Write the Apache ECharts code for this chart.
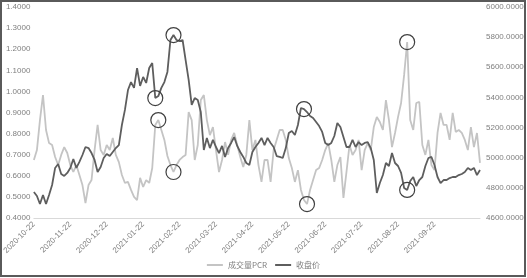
<!DOCTYPE html>
<html>
<head>
<meta charset="utf-8">
<script src="https://cdn.jsdelivr.net/npm/echarts@6/dist/echarts.min.js"></script>
<style>
  html, body { margin: 0; padding: 0; background: #fff; }
  #main { width: 527px; height: 278px; }
</style>
</head>
<body>
<div id="main"></div>
<script>
// month labels shown on the category axis, one every 12 points
const tickLabels = ['2020-10-22', '2020-11-22', '2020-12-22', '2021-01-22', '2021-02-22', '2021-03-22',
  '2021-04-22', '2021-05-22', '2021-06-22', '2021-07-22', '2021-08-22', '2021-09-22'];

// 成交量PCR (left axis)
const pcr = [
  0.675, 0.722, 0.864, 0.983, 0.817, 0.755, 0.746, 0.689, 0.651, 0.699, 0.736, 0.708,
  0.651, 0.618, 0.651, 0.604, 0.556, 0.471, 0.556, 0.580, 0.722, 0.841, 0.722, 0.699,
  0.746, 0.722, 0.779, 0.699, 0.665, 0.604, 0.566, 0.571, 0.533, 0.500, 0.485, 0.590,
  0.547, 0.580, 0.566, 0.637, 0.841, 0.864, 0.817, 0.770, 0.694, 0.651, 0.618, 0.651,
  0.675, 0.689, 0.699, 0.902, 0.864, 0.675, 0.746, 0.959, 0.983, 0.864, 0.793, 0.831,
  0.722, 0.618, 0.675, 0.760, 0.699, 0.770, 0.803, 0.746, 0.689, 0.642, 0.699, 0.864,
  0.722, 0.770, 0.651, 0.571, 0.675, 0.675, 0.571, 0.722, 0.770, 0.817, 0.817, 0.770,
  0.684, 0.637, 0.571, 0.627, 0.533, 0.485, 0.466, 0.533, 0.580, 0.627, 0.637, 0.675,
  0.722, 0.755, 0.675, 0.571, 0.651, 0.689, 0.495, 0.618, 0.746, 0.699, 0.722, 0.770,
  0.627, 0.722, 0.755, 0.722, 0.831, 0.879, 0.855, 0.817, 0.959, 0.864, 0.736, 0.803,
  0.879, 0.945, 1.078, 1.234, 0.864, 0.817, 0.945, 0.950, 0.746, 0.699, 0.770, 0.651,
  0.627, 0.803, 0.898, 0.841, 0.841, 0.770, 0.898, 0.808, 0.817, 0.803, 0.770, 0.722,
  0.831, 0.736, 0.803, 0.661
];

// 收盘价 (right axis)
const close = [
  4773, 4746, 4693, 4753, 4693, 4753, 4819, 4932, 4958, 4892, 4879, 4899,
  4932, 4991, 4932, 4972, 5018, 5071, 5064, 5031, 4985, 4905, 4938, 4998,
  5025, 5011, 5038, 5064, 5084, 5217, 5317, 5449, 5502, 5463, 5595, 5476,
  5536, 5496, 5595, 5628, 5396, 5409, 5463, 5502, 5569, 5781, 5814, 5781,
  5774, 5781, 5648, 5516, 5350, 5396, 5383, 5303, 5051, 5131, 5064, 5118,
  5071, 5031, 5078, 5005, 5064, 5098, 5137, 5078, 5038, 5005, 4965, 4952,
  5038, 5071, 5098, 5131, 5084, 5131, 5098, 5071, 5011, 5005, 4998, 5064,
  5164, 5177, 5151, 5217, 5330, 5323, 5303, 5277, 5264, 5237, 5210, 5171,
  5098, 5084, 5098, 5144, 5230, 5204, 5137, 5071, 5071, 5118, 5071, 5104,
  5084, 5098, 5104, 5064, 4985, 4766, 4832, 4885, 4965, 4945, 5031, 4965,
  4945, 4899, 4799, 4786, 4845, 4872, 4812, 4852, 4872, 4945, 4998, 5005,
  4952, 4872, 4832, 4852, 4852, 4865, 4872, 4872, 4885, 4892, 4905, 4932,
  4918, 4932, 4885, 4918
];

// points circled in the picture (indices into the series)
const pcrMarks = [41, 46, 90, 123];
const closeMarks = [40, 46, 89, 123];

const categories = pcr.map((v, i) => (i % 12 === 0 && tickLabels[i / 12]) ? tickLabels[i / 12] : 'd' + i);

const circleStyle = {
  symbol: 'circle',
  symbolSize: 15,
  silent: true,
  label: { show: false },
  itemStyle: { color: 'rgba(0,0,0,0)', borderColor: '#404040', borderWidth: 1.2 },
};

const chart = echarts.init(document.getElementById('main'));
chart.setOption({
  animation: false,
  textStyle: { fontFamily: 'Liberation Sans, Arial, sans-serif' },
  grid: { left: 33, right: 47, top: 7, bottom: 60 },
  legend: {
    bottom: 4,
    left: 'center',
    itemWidth: 16,
    itemHeight: 2,
    itemGap: 8,
    icon: 'rect',
    textStyle: { fontSize: 8, color: '#7f7f7f', fontFamily: 'Noto Sans CJK SC, sans-serif' },
    data: ['成交量PCR', '收盘价'],
  },
  xAxis: {
    type: 'category',
    data: categories,
    boundaryGap: false,
    axisLine: { lineStyle: { color: '#d9d9d9', width: 1 } },
    axisTick: { show: false },
    axisLabel: {
      rotate: 45,
      fontSize: 8,
      color: '#7f7f7f',
      margin: 5,
      interval: (i, v) => v.charAt(0) !== 'd',
    },
  },
  yAxis: [
    {
      type: 'value',
      min: 0.4,
      max: 1.4,
      interval: 0.1,
      splitLine: { show: false },
      axisLine: { show: false },
      axisTick: { show: false },
      axisLabel: { fontSize: 8, color: '#7f7f7f', align: 'left', margin: 28, formatter: v => v.toFixed(4) },
    },
    {
      type: 'value',
      min: 4600,
      max: 6000,
      interval: 200,
      splitLine: { show: false },
      axisLine: { show: false },
      axisTick: { show: false },
      axisLabel: { fontSize: 8, color: '#7f7f7f', margin: 6, formatter: v => v.toFixed(4) },
    },
  ],
  series: [
    {
      name: '成交量PCR',
      type: 'line',
      yAxisIndex: 0,
      data: pcr,
      showSymbol: false,
      symbol: 'none',
      itemStyle: { color: '#c4c4c4' },
      lineStyle: { color: '#c4c4c4', width: 1.8 },
      markPoint: Object.assign({ data: pcrMarks.map(i => ({ coord: [categories[i], pcr[i]] })) }, circleStyle),
    },
    {
      name: '收盘价',
      type: 'line',
      yAxisIndex: 1,
      data: close,
      showSymbol: false,
      symbol: 'none',
      itemStyle: { color: '#5e5e5e' },
      lineStyle: { color: '#5e5e5e', width: 1.8 },
      markPoint: Object.assign({ data: closeMarks.map(i => ({ coord: [categories[i], close[i]] })) }, circleStyle),
    },
  ],
  graphic: [
    {
      type: 'rect',
      silent: true,
      shape: { x: 1, y: 1, width: 524, height: 275 },
      style: { fill: 'none', stroke: '#5a5a5a', lineWidth: 2 },
    },
  ],
});
</script>
</body>
</html>
